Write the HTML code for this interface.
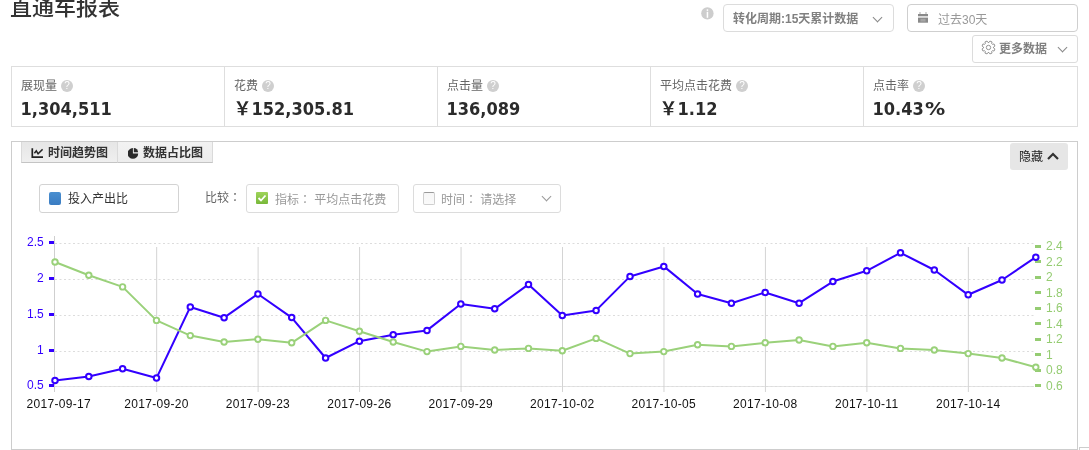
<!DOCTYPE html>
<html lang="zh-CN">
<head>
<meta charset="utf-8">
<title>直通车报表</title>
<style>
*{box-sizing:border-box;margin:0;padding:0}
html,body{width:1089px;height:450px;overflow:hidden;background:#fff}
body{position:relative;font-family:"Liberation Sans","Noto Sans CJK SC",sans-serif;font-size:12px;color:#333}
.abs{position:absolute}
.title{left:10px;top:-10px;font-size:22px;line-height:30px;color:#333;font-weight:500;white-space:nowrap;font-family:"Noto Sans CJK SC",sans-serif}
.info{left:701px;top:7px;width:13px;height:13px;border-radius:50%;background:#cfcfcf;color:#fff;font:bold 10px/13px "DejaVu Serif",serif;text-align:center}
.box{border:1px solid #dcdcdc;border-radius:3px;background:#fff}
.sel1{left:723px;top:4px;width:171px;height:28px;border-radius:4px}
.sel1 .t{left:9px;top:5.5px;font-weight:bold;color:#808080;white-space:nowrap;line-height:16px}
.chev{position:absolute;width:7px;height:7px;border-right:1px solid #888;border-bottom:1px solid #888;transform:rotate(45deg)}
.date{left:907px;top:4px;width:171px;height:28px;border-color:#cfcfcf;border-radius:4px}
.date .t{left:30px;top:6.7px;color:#999;line-height:16px;white-space:nowrap}
.more{left:972px;top:35px;width:106px;height:28px}
.more .t{left:26px;top:4.5px;font-weight:bold;color:#808080;line-height:16px;white-space:nowrap}
.metrics{left:11px;top:66px;width:1067px;height:61px;border:1px solid #dedede}
.cell{position:absolute;top:0;height:59px;border-left:1px solid #dedede}
.cell:first-child{border-left:none}
.cell .lab{position:absolute;left:9px;top:11px;color:#666;line-height:16px;white-space:nowrap}
.cell .q{display:inline-block;width:12px;height:12px;border-radius:50%;background:#cfcfcf;color:#fff;font:10px/12px "Liberation Sans",sans-serif;text-align:center;vertical-align:1px;margin-left:4px}
.cell .num{position:absolute;left:8.5px;top:29.5px;font:bold 18px/24px "DejaVu Sans","Noto Sans CJK SC",sans-serif;font-stretch:condensed;color:#2b2b2b;white-space:nowrap}
.panel{left:11px;top:141px;width:1067px;height:309px;border:1px solid #cdcdcd}
.tab{top:142px;height:21px;background:#ececec;border-bottom:1px solid #c4c4c4;font-weight:bold;color:#333;line-height:21px;white-space:nowrap}
.tab1{left:21px;width:97px;border-left:1px solid #dadada;background:linear-gradient(#e6e6e6,#efefef)}
.tab2{left:117px;width:96px;border-left:1px solid #dadada;border-right:1px solid #dadada;background:linear-gradient(#f2f2f2,#ededed)}
.hide{left:1010px;top:143px;width:58px;height:27px;background:#e6e6e6;border-radius:3px}
.hide .t{left:9px;top:5.5px;line-height:16px;color:#222}
.ctl{left:39px;top:184px;width:140px;height:29px;border:1px solid #d3d3d3;border-radius:3px}
.sq{position:absolute;width:12px;height:12px;border-radius:1px}
.cmp{left:205px;top:189px;color:#666;line-height:16px;white-space:nowrap}
.c1{left:246px;top:184px;width:153px;height:29px;border:1px solid #dcdcdc;border-radius:3px}
.c2{left:413px;top:184px;width:148px;height:29px;border:1px solid #dcdcdc;border-radius:3px}
.gray{color:#999;line-height:16px;white-space:nowrap}
.chart{position:absolute;left:0;top:0}
.chart text{font-family:"Liberation Sans",sans-serif;font-size:12px}
.chart .yl{fill:#3300ff}
.chart .yr{fill:#95cc72}
.chart .xl{fill:#111;letter-spacing:0.3px}
.corner{left:1079px;top:447px;width:20px;height:10px;border-left:1px solid #cdcdcd;border-top:1px solid #cdcdcd}
</style>
</head>
<body>
<div class="abs title">直通车报表</div>

<svg class="abs" style="left:701px;top:7px" width="13" height="13" viewBox="0 0 13 13"><circle cx="6.4" cy="6.4" r="6.2" fill="#cdcdcd"/><rect x="5.7" y="2.3" width="1.5" height="1.6" fill="#fff"/><rect x="5.7" y="4.8" width="1.5" height="6" fill="#fff"/></svg>
<div class="abs box sel1"><span class="abs t">转化周期:15天累计数据</span><span class="chev" style="left:150px;top:8.6px"></span></div>
<div class="abs box date">
  <svg class="abs" style="left:10px;top:7px" width="10" height="11" viewBox="0 0 10 11"><rect x="1.5" y="0" width="1" height="2" fill="#aaa"/><rect x="7.5" y="0" width="1" height="2" fill="#aaa"/><rect x="0" y="2" width="10" height="2.3" fill="#8a8a8a"/><rect x="0" y="5.6" width="10" height="5.1" fill="#8a8a8a"/><rect x="2.5" y="6.8" width="5" height="2.8" fill="#a5a5a5"/></svg>
  <span class="abs t">过去30天</span>
</div>
<div class="abs box more">
  <svg class="abs" style="left:8px;top:4px" width="15" height="15" viewBox="0 0 15 15"><path d="M12.48 7.98 L13.94 8.93 L13.07 11.05 L11.36 10.68 L10.68 11.36 L11.05 13.07 L8.93 13.94 L7.98 12.48 L7.02 12.48 L6.07 13.94 L3.95 13.07 L4.32 11.36 L3.64 10.68 L1.93 11.05 L1.06 8.93 L2.52 7.98 L2.52 7.02 L1.06 6.07 L1.93 3.95 L3.64 4.32 L4.32 3.64 L3.95 1.93 L6.07 1.06 L7.02 2.52 L7.98 2.52 L8.93 1.06 L11.05 1.93 L10.68 3.64 L11.36 4.32 L13.07 3.95 L13.94 6.07 L12.48 7.02Z" fill="none" stroke="#8a8a8a" stroke-width="0.9" stroke-linejoin="round"/><circle cx="7.5" cy="7.5" r="2.2" fill="none" stroke="#8a8a8a" stroke-width="0.9"/></svg>
  <span class="abs t">更多数据</span><span class="chev" style="left:86px;top:8px"></span>
</div>

<div class="abs metrics">
  <div class="cell" style="left:0;width:213px"><span class="lab">展现量<i class="q">?</i></span><span class="num">1,304,511</span></div>
  <div class="cell" style="left:212px;width:214px"><span class="lab">花费<i class="q">?</i></span><span class="num">￥152,305.81</span></div>
  <div class="cell" style="left:425px;width:214px"><span class="lab">点击量<i class="q">?</i></span><span class="num">136,089</span></div>
  <div class="cell" style="left:638px;width:214px"><span class="lab">平均点击花费<i class="q">?</i></span><span class="num">￥1.12</span></div>
  <div class="cell" style="left:851px;width:214px"><span class="lab">点击率<i class="q">?</i></span><span class="num">10.43<span style="display:inline-block;font-stretch:normal;margin-left:1px;transform:scaleX(1.12);transform-origin:0 0">%</span></span></div>
</div>

<div class="abs panel"></div>
<div class="abs tab tab1">
  <svg class="abs" style="left:9px;top:5px" width="12" height="11" viewBox="0 0 12 11"><path d="M1.3 1.2V10.1H12" fill="none" stroke="#222" stroke-width="1.7"/><path d="M3.4 6.2L5.3 3.8 7.1 6.8 11.6 2.3" fill="none" stroke="#222" stroke-width="1.5"/></svg>
  <span class="abs" style="left:26px;top:0.5px">时间趋势图</span>
</div>
<div class="abs tab tab2">
  <svg class="abs" style="left:10px;top:5px" width="11" height="12" viewBox="128 147 11 12"><path d="M132.9 148.1A5.3 5.3 0 1 0 138.2 153.4H132.9Z" fill="#2a2a2a"/><path d="M133.8 147.9A4.3 4.3 0 0 1 138.1 152.2H133.8Z" fill="#2a2a2a"/></svg>
  <span class="abs" style="left:25px;top:0.5px">数据占比图</span>
</div>
<div class="abs hide"><span class="abs t">隐藏</span>
  <svg class="abs" style="left:37px;top:9px" width="12" height="8" viewBox="0 0 12 8"><path d="M1 7l5-5 5 5" fill="none" stroke="#333" stroke-width="2.2"/></svg>
</div>

<div class="abs ctl"><span class="sq" style="left:9px;top:7px;height:12.5px;border-radius:2px;background:linear-gradient(#4a8fd0,#3a7cc2)"></span><span class="abs" style="left:28px;top:6px;line-height:16px;color:#333">投入产出比</span></div>
<div class="abs cmp">比较<span lang="zh-TW" style="font-family:'Noto Sans CJK TC',sans-serif">：</span></div>
<div class="abs c1"><span class="sq" style="left:9px;top:7px;background:linear-gradient(#9fd45a,#78b83a)"></span>
  <svg class="abs" style="left:10px;top:8px" width="10" height="10" viewBox="0 0 10 10"><path d="M1.5 5l2.5 2.5 4.5-5" fill="none" stroke="#fff" stroke-width="1.8"/></svg>
  <span class="abs gray" style="left:28px;top:5.5px">指标<span lang="zh-TW" style="font-family:'Noto Sans CJK TC',sans-serif">：</span> 平均点击花费</span></div>
<div class="abs c2"><span class="sq" style="left:9px;top:7px;height:12.5px;border:1px solid #cfcfcf;border-top-color:#9a9a9a;border-radius:2px;background:linear-gradient(#f6f6f6,#fafafa)"></span>
  <span class="abs gray" style="left:27px;top:5.5px">时间<span lang="zh-TW" style="font-family:'Noto Sans CJK TC',sans-serif">：</span> 请选择</span><span class="chev" style="left:129px;top:8px;border-color:#999"></span></div>

<svg class="chart" width="1089" height="450" viewBox="0 0 1089 450">
<line x1="55" y1="386.5" x2="1034" y2="386.5" stroke="#e4e4e4" stroke-width="1"/>
<line x1="55" y1="243.5" x2="1034" y2="243.5" stroke="#dcdcdc" stroke-width="1" stroke-dasharray="2,2.5"/>
<line x1="55" y1="279.5" x2="1034" y2="279.5" stroke="#dcdcdc" stroke-width="1" stroke-dasharray="2,2.5"/>
<line x1="55" y1="315.5" x2="1034" y2="315.5" stroke="#dcdcdc" stroke-width="1" stroke-dasharray="2,2.5"/>
<line x1="55" y1="351.5" x2="1034" y2="351.5" stroke="#dcdcdc" stroke-width="1" stroke-dasharray="2,2.5"/>
<line x1="55" y1="386.5" x2="1034" y2="386.5" stroke="#dcdcdc" stroke-width="1" stroke-dasharray="2,2.5"/>
<line x1="156.66" y1="247" x2="156.66" y2="392" stroke="#d4d4d4" stroke-width="1"/>
<line x1="258.12" y1="247" x2="258.12" y2="392" stroke="#d4d4d4" stroke-width="1"/>
<line x1="359.59" y1="247" x2="359.59" y2="392" stroke="#d4d4d4" stroke-width="1"/>
<line x1="461.05" y1="247" x2="461.05" y2="392" stroke="#d4d4d4" stroke-width="1"/>
<line x1="562.51" y1="247" x2="562.51" y2="392" stroke="#d4d4d4" stroke-width="1"/>
<line x1="663.97" y1="247" x2="663.97" y2="392" stroke="#d4d4d4" stroke-width="1"/>
<line x1="765.43" y1="247" x2="765.43" y2="392" stroke="#d4d4d4" stroke-width="1"/>
<line x1="866.90" y1="247" x2="866.90" y2="392" stroke="#d4d4d4" stroke-width="1"/>
<line x1="968.36" y1="247" x2="968.36" y2="392" stroke="#d4d4d4" stroke-width="1"/>
<line x1="54.5" y1="236" x2="54.5" y2="392" stroke="#cfcfcf" stroke-width="1"/>
<rect x="49" y="241.0" width="5" height="3" fill="#3300ff"/>
<text x="43.8" y="246.4" text-anchor="end" class="yl">2.5</text>
<rect x="49" y="277.0" width="5" height="3" fill="#3300ff"/>
<text x="43.8" y="282.4" text-anchor="end" class="yl">2</text>
<rect x="49" y="313.0" width="5" height="3" fill="#3300ff"/>
<text x="43.8" y="318.4" text-anchor="end" class="yl">1.5</text>
<rect x="49" y="349.0" width="5" height="3" fill="#3300ff"/>
<text x="43.8" y="354.4" text-anchor="end" class="yl">1</text>
<rect x="49" y="384.0" width="5" height="3" fill="#3300ff"/>
<text x="43.8" y="389.4" text-anchor="end" class="yl">0.5</text>
<rect x="1035" y="245" width="6" height="3" fill="#95cc72"/>
<text x="1046" y="250.3" class="yr">2.4</text>
<rect x="1035" y="260" width="6" height="3" fill="#95cc72"/>
<text x="1046" y="265.8" class="yr">2.2</text>
<rect x="1035" y="276" width="6" height="3" fill="#95cc72"/>
<text x="1046" y="281.3" class="yr">2</text>
<rect x="1035" y="291" width="6" height="3" fill="#95cc72"/>
<text x="1046" y="296.8" class="yr">1.8</text>
<rect x="1035" y="307" width="6" height="3" fill="#95cc72"/>
<text x="1046" y="312.3" class="yr">1.6</text>
<rect x="1035" y="322" width="6" height="3" fill="#95cc72"/>
<text x="1046" y="327.8" class="yr">1.4</text>
<rect x="1035" y="338" width="6" height="3" fill="#95cc72"/>
<text x="1046" y="343.3" class="yr">1.2</text>
<rect x="1035" y="353" width="6" height="3" fill="#95cc72"/>
<text x="1046" y="358.8" class="yr">1</text>
<rect x="1035" y="369" width="6" height="3" fill="#95cc72"/>
<text x="1046" y="374.3" class="yr">0.8</text>
<rect x="1035" y="384" width="6" height="3" fill="#95cc72"/>
<text x="1046" y="389.8" class="yr">0.6</text>
<text x="58.8" y="408" text-anchor="middle" class="xl">2017-09-17</text>
<text x="156.5" y="408" text-anchor="middle" class="xl">2017-09-20</text>
<text x="257.9" y="408" text-anchor="middle" class="xl">2017-09-23</text>
<text x="359.4" y="408" text-anchor="middle" class="xl">2017-09-26</text>
<text x="460.8" y="408" text-anchor="middle" class="xl">2017-09-29</text>
<text x="562.3" y="408" text-anchor="middle" class="xl">2017-10-02</text>
<text x="663.8" y="408" text-anchor="middle" class="xl">2017-10-05</text>
<text x="765.2" y="408" text-anchor="middle" class="xl">2017-10-08</text>
<text x="866.7" y="408" text-anchor="middle" class="xl">2017-10-11</text>
<text x="968.2" y="408" text-anchor="middle" class="xl">2017-10-14</text>
<polyline points="55.0,380.4 88.8,376.4 122.6,368.8 156.5,378.1 190.3,306.9 224.1,317.7 257.9,294.0 291.7,317.6 325.6,358.0 359.4,341.2 393.2,334.8 427.0,330.4 460.8,304.0 494.7,308.8 528.5,284.4 562.3,315.6 596.1,310.4 630.0,276.4 663.8,266.4 697.6,294.0 731.4,303.2 765.2,292.4 799.1,303.2 832.9,281.6 866.7,270.8 900.5,252.8 934.3,270.0 968.2,294.8 1002.0,280.0 1035.8,257.2" fill="none" stroke="#3300ff" stroke-width="2.05" stroke-linejoin="round"/>
<circle cx="55.0" cy="380.4" r="2.75" fill="#fff" stroke="#3300ff" stroke-width="2"/>
<circle cx="88.8" cy="376.4" r="2.75" fill="#fff" stroke="#3300ff" stroke-width="2"/>
<circle cx="122.6" cy="368.8" r="2.75" fill="#fff" stroke="#3300ff" stroke-width="2"/>
<circle cx="156.5" cy="378.1" r="2.75" fill="#fff" stroke="#3300ff" stroke-width="2"/>
<circle cx="190.3" cy="306.9" r="2.75" fill="#fff" stroke="#3300ff" stroke-width="2"/>
<circle cx="224.1" cy="317.7" r="2.75" fill="#fff" stroke="#3300ff" stroke-width="2"/>
<circle cx="257.9" cy="294.0" r="2.75" fill="#fff" stroke="#3300ff" stroke-width="2"/>
<circle cx="291.7" cy="317.6" r="2.75" fill="#fff" stroke="#3300ff" stroke-width="2"/>
<circle cx="325.6" cy="358.0" r="2.75" fill="#fff" stroke="#3300ff" stroke-width="2"/>
<circle cx="359.4" cy="341.2" r="2.75" fill="#fff" stroke="#3300ff" stroke-width="2"/>
<circle cx="393.2" cy="334.8" r="2.75" fill="#fff" stroke="#3300ff" stroke-width="2"/>
<circle cx="427.0" cy="330.4" r="2.75" fill="#fff" stroke="#3300ff" stroke-width="2"/>
<circle cx="460.8" cy="304.0" r="2.75" fill="#fff" stroke="#3300ff" stroke-width="2"/>
<circle cx="494.7" cy="308.8" r="2.75" fill="#fff" stroke="#3300ff" stroke-width="2"/>
<circle cx="528.5" cy="284.4" r="2.75" fill="#fff" stroke="#3300ff" stroke-width="2"/>
<circle cx="562.3" cy="315.6" r="2.75" fill="#fff" stroke="#3300ff" stroke-width="2"/>
<circle cx="596.1" cy="310.4" r="2.75" fill="#fff" stroke="#3300ff" stroke-width="2"/>
<circle cx="630.0" cy="276.4" r="2.75" fill="#fff" stroke="#3300ff" stroke-width="2"/>
<circle cx="663.8" cy="266.4" r="2.75" fill="#fff" stroke="#3300ff" stroke-width="2"/>
<circle cx="697.6" cy="294.0" r="2.75" fill="#fff" stroke="#3300ff" stroke-width="2"/>
<circle cx="731.4" cy="303.2" r="2.75" fill="#fff" stroke="#3300ff" stroke-width="2"/>
<circle cx="765.2" cy="292.4" r="2.75" fill="#fff" stroke="#3300ff" stroke-width="2"/>
<circle cx="799.1" cy="303.2" r="2.75" fill="#fff" stroke="#3300ff" stroke-width="2"/>
<circle cx="832.9" cy="281.6" r="2.75" fill="#fff" stroke="#3300ff" stroke-width="2"/>
<circle cx="866.7" cy="270.8" r="2.75" fill="#fff" stroke="#3300ff" stroke-width="2"/>
<circle cx="900.5" cy="252.8" r="2.75" fill="#fff" stroke="#3300ff" stroke-width="2"/>
<circle cx="934.3" cy="270.0" r="2.75" fill="#fff" stroke="#3300ff" stroke-width="2"/>
<circle cx="968.2" cy="294.8" r="2.75" fill="#fff" stroke="#3300ff" stroke-width="2"/>
<circle cx="1002.0" cy="280.0" r="2.75" fill="#fff" stroke="#3300ff" stroke-width="2"/>
<circle cx="1035.8" cy="257.2" r="2.75" fill="#fff" stroke="#3300ff" stroke-width="2"/>
<polyline points="55.0,262.0 88.8,275.3 122.6,286.9 156.5,320.4 190.3,335.6 224.1,342.0 257.9,339.2 291.7,342.8 325.6,320.4 359.4,331.2 393.2,342.0 427.0,351.6 460.8,346.4 494.7,350.0 528.5,348.4 562.3,350.8 596.1,338.4 630.0,353.6 663.8,351.6 697.6,344.8 731.4,346.4 765.2,342.8 799.1,340.0 832.9,346.4 866.7,342.8 900.5,348.4 934.3,350.0 968.2,353.6 1002.0,358.0 1035.8,367.2" fill="none" stroke="#9ad17a" stroke-width="2" stroke-linejoin="round"/>
<circle cx="55.0" cy="262.0" r="2.75" fill="#fff" stroke="#9ad17a" stroke-width="1.9"/>
<circle cx="88.8" cy="275.3" r="2.75" fill="#fff" stroke="#9ad17a" stroke-width="1.9"/>
<circle cx="122.6" cy="286.9" r="2.75" fill="#fff" stroke="#9ad17a" stroke-width="1.9"/>
<circle cx="156.5" cy="320.4" r="2.75" fill="#fff" stroke="#9ad17a" stroke-width="1.9"/>
<circle cx="190.3" cy="335.6" r="2.75" fill="#fff" stroke="#9ad17a" stroke-width="1.9"/>
<circle cx="224.1" cy="342.0" r="2.75" fill="#fff" stroke="#9ad17a" stroke-width="1.9"/>
<circle cx="257.9" cy="339.2" r="2.75" fill="#fff" stroke="#9ad17a" stroke-width="1.9"/>
<circle cx="291.7" cy="342.8" r="2.75" fill="#fff" stroke="#9ad17a" stroke-width="1.9"/>
<circle cx="325.6" cy="320.4" r="2.75" fill="#fff" stroke="#9ad17a" stroke-width="1.9"/>
<circle cx="359.4" cy="331.2" r="2.75" fill="#fff" stroke="#9ad17a" stroke-width="1.9"/>
<circle cx="393.2" cy="342.0" r="2.75" fill="#fff" stroke="#9ad17a" stroke-width="1.9"/>
<circle cx="427.0" cy="351.6" r="2.75" fill="#fff" stroke="#9ad17a" stroke-width="1.9"/>
<circle cx="460.8" cy="346.4" r="2.75" fill="#fff" stroke="#9ad17a" stroke-width="1.9"/>
<circle cx="494.7" cy="350.0" r="2.75" fill="#fff" stroke="#9ad17a" stroke-width="1.9"/>
<circle cx="528.5" cy="348.4" r="2.75" fill="#fff" stroke="#9ad17a" stroke-width="1.9"/>
<circle cx="562.3" cy="350.8" r="2.75" fill="#fff" stroke="#9ad17a" stroke-width="1.9"/>
<circle cx="596.1" cy="338.4" r="2.75" fill="#fff" stroke="#9ad17a" stroke-width="1.9"/>
<circle cx="630.0" cy="353.6" r="2.75" fill="#fff" stroke="#9ad17a" stroke-width="1.9"/>
<circle cx="663.8" cy="351.6" r="2.75" fill="#fff" stroke="#9ad17a" stroke-width="1.9"/>
<circle cx="697.6" cy="344.8" r="2.75" fill="#fff" stroke="#9ad17a" stroke-width="1.9"/>
<circle cx="731.4" cy="346.4" r="2.75" fill="#fff" stroke="#9ad17a" stroke-width="1.9"/>
<circle cx="765.2" cy="342.8" r="2.75" fill="#fff" stroke="#9ad17a" stroke-width="1.9"/>
<circle cx="799.1" cy="340.0" r="2.75" fill="#fff" stroke="#9ad17a" stroke-width="1.9"/>
<circle cx="832.9" cy="346.4" r="2.75" fill="#fff" stroke="#9ad17a" stroke-width="1.9"/>
<circle cx="866.7" cy="342.8" r="2.75" fill="#fff" stroke="#9ad17a" stroke-width="1.9"/>
<circle cx="900.5" cy="348.4" r="2.75" fill="#fff" stroke="#9ad17a" stroke-width="1.9"/>
<circle cx="934.3" cy="350.0" r="2.75" fill="#fff" stroke="#9ad17a" stroke-width="1.9"/>
<circle cx="968.2" cy="353.6" r="2.75" fill="#fff" stroke="#9ad17a" stroke-width="1.9"/>
<circle cx="1002.0" cy="358.0" r="2.75" fill="#fff" stroke="#9ad17a" stroke-width="1.9"/>
<circle cx="1035.8" cy="367.2" r="2.75" fill="#fff" stroke="#9ad17a" stroke-width="1.9"/>
</svg>
<div class="abs corner"></div>
</body>
</html>
